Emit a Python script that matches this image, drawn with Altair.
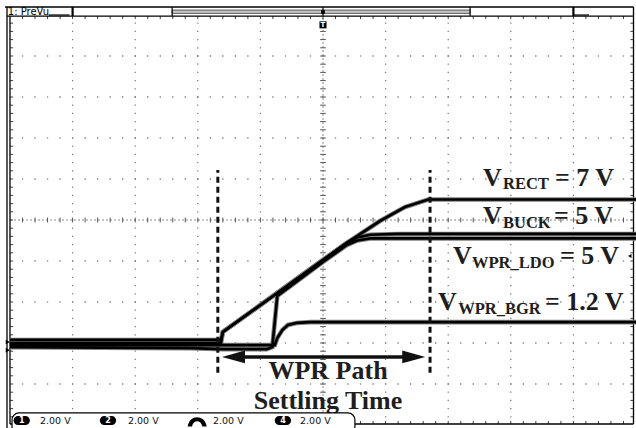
import altair as alt
import pandas as pd

# ---------------- chart values ----------------
# x: time in screen divisions (10 div across), y: volts (2 V/div, ground 3 div below centre)
rect_t = [0, 3.37, 3.40, 4.27, 5.00, 5.38, 5.91, 6.31, 6.68, 10]
rect_v = [0.15, 0.15, 0.54, 2.44, 4.05, 4.88, 5.95, 6.63, 7.0, 7.0]
buck_t = [0, 3.37, 3.40, 4.27, 5.00, 5.38, 5.55, 5.75, 6.2, 10]
buck_v = [0.0, 0.0, 0.54, 2.44, 4.05, 4.88, 5.15, 5.28, 5.32, 5.32]
ldo_t = [0, 2.9, 3.4, 4.1, 4.19, 4.27, 5.0, 5.38, 5.55, 5.75, 6.2, 10]
ldo_v = [-0.2, -0.25, -0.3, -0.3, -0.2, 2.3, 3.95, 4.78, 5.0, 5.1, 5.1, 5.1]
bgr_t = [0, 4.23, 4.27, 4.35, 4.44, 4.58, 4.8, 10]
bgr_v = [-0.1, -0.1, 0.24, 0.63, 0.88, 0.98, 1.02, 1.02]

settle_start = 3.32
settle_end = 6.71

label_big = ["V", "= 7 V", "V", "= 5 V", "V", "= 5 V", "V", "= 1.2 V"]
label_sub = ["RECT", "BUCK", "WPR_LDO", "WPR_BGR"]
caption = ["WPR Path", "Settling Time"]
channels = ["1", "2", "", "4"]
scale_txt = ["2.00 V", "2.00 V", "2.00 V", "2.00 V"]

# ---------------- scales ----------------
X = alt.Scale(domain=[0, 10], nice=False, zero=False)
Y = alt.Scale(domain=[-4, 16], nice=False, zero=False)


def ex(f="x"):
    return alt.X(f"{f}:Q", scale=X, axis=None)


def ey(f="y"):
    return alt.Y(f"{f}:Q", scale=Y, axis=None)


def segs(rows, **mk):
    df = pd.DataFrame(rows, columns=["x", "x2", "y", "y2"])
    return alt.Chart(df).mark_rule(**mk).encode(
        x=ex("x"), x2="x2:Q", y=ey("y"), y2="y2:Q")


minor_x = [i * 0.2 for i in range(51)]
minor_y = [-4 + i * 0.4 for i in range(51)]

# grid dots
dots = []
for gx in [1, 2, 3, 4, 6, 7, 8, 9]:
    for my in minor_y[1:-1]:
        dots.append((gx, my))
for gy in [-2, 0, 2, 4, 8, 10, 12, 14]:
    for mx in minor_x[1:-1]:
        dots.append((mx, gy))
grid = alt.Chart(pd.DataFrame(dots, columns=["x", "y"])).mark_square(
    size=1.6, color="#7a7a7a", opacity=1).encode(x=ex(), y=ey())

centre = segs([(5, 5, -3.95, 15.95), (0, 9.96, 6, 6)],
              color="#8a8a8a", strokeWidth=1, strokeDash=[2, 2])
centre_ticks = segs([(4.955, 5.045, my, my) for my in minor_y[1:-1]] +
                    [(mx, mx, 5.88, 6.12) for mx in minor_x[1:-1]],
                    color="#555555", strokeWidth=1)
border_ticks = segs([(0, 0.05, my, my) for my in minor_y[1:-1]] +
                    [(9.91, 9.96, my, my) for my in minor_y[1:-1]] +
                    [(mx, mx, 15.95, 15.8) for mx in minor_x[1:-1]] +
                    [(mx, mx, -3.95, -3.8) for mx in minor_x[1:-1]],
                    color="#444444", strokeWidth=1)
frame = segs([(0, 0, 15.95, -3.95), (-0.048, -0.048, 16.39, -4.3),
              (9.96, 9.96, 16.39, -3.95), (-0.048, 9.96, 15.95, 15.95),
              (0, 9.96, -3.95, -3.95), (-0.08, 9.96, 16.39, 16.39)],
             color="black", strokeWidth=1.3)

# header bar
hdr_sep = segs([(1.0, 1.0, 16.39, 15.95), (9.0, 9.0, 16.39, 15.95)],
               color="black", strokeWidth=2.2)
hdr_sep2 = segs([(2.59, 2.59, 16.39, 15.95), (7.35, 7.35, 16.39, 15.95),
                 (5.0, 5.0, 16.39, 15.95), (0.62, 0.95, 16.0, 16.0),
                 (9.0, 9.25, 16.0, 16.0)],
                color="black", strokeWidth=1.2)
hdr_bar = alt.Chart(pd.DataFrame({"x": [2.59], "x2": [7.35], "y": [16.24], "y2": [16.08]})).mark_rect(
    color="#c8c8c8", stroke="#333333", strokeWidth=0.8).encode(
    x=ex("x"), x2="x2:Q", y=ey("y"), y2="y2:Q")
hdr_txt = alt.Chart(pd.DataFrame({"x": [-0.035], "y": [16.0], "t": ["1: PreVu"]})).mark_text(
    align="left", baseline="alphabetic", font="DejaVu Sans", fontSize=10, color="black").encode(
    x=ex(), y=ey(), text="t:N")
trig = alt.Chart(pd.DataFrame({"x": [5.0, 5.0], "y": [15.52, 16.15], "s": [50, 14]})).mark_square(
    color="black", opacity=1).encode(x=ex(), y=ey(), size=alt.Size("s:Q", scale=None))
trig_t = alt.Chart(pd.DataFrame({"x": [5.0], "y": [15.52], "t": ["T"]})).mark_text(
    align="center", baseline="middle", font="DejaVu Sans", fontSize=7, fontWeight="bold",
    color="white").encode(x=ex(), y=ey(), text="t:N")

# side markers
marks_df = pd.DataFrame({"x": [-0.035, -0.035], "y": [0.05, -0.35]})
gnd = alt.Chart(marks_df).mark_point(shape="triangle-right", filled=True, size=22,
                                     color="black", opacity=1).encode(x=ex(), y=ey())
rmark = alt.Chart(pd.DataFrame({"x": [9.9], "y": [4.24]})).mark_point(
    shape="triangle-left", filled=True, size=16, color="black", opacity=1).encode(x=ex(), y=ey())

# traces
rows = []
for name, ts, vs in [("VRECT", rect_t, rect_v), ("VBUCK", buck_t, buck_v),
                     ("VWPR_LDO", ldo_t, ldo_v), ("VWPR_BGR", bgr_t, bgr_v)]:
    for i, (t, v) in enumerate(zip(ts, vs)):
        rows.append({"s": name, "i": i, "t": t, "v": v})
tr = pd.DataFrame(rows)
halo = alt.Chart(tr).mark_line(color="#808080", strokeWidth=4.6).encode(
    x=ex("t"), y=ey("v"), detail="s:N", order="i:Q")
trace = alt.Chart(tr).mark_line(color="black", strokeWidth=2.7).encode(
    x=ex("t"), y=ey("v"), detail="s:N", order="i:Q")

# settling-time markers
dash = segs([(settle_start, settle_start, -1.45, 8.44), (settle_end, settle_end, -1.45, 8.44)],
            color="#111111", strokeWidth=3, strokeDash=[6, 4])
arrow_line = segs([(settle_start + 0.2, settle_end - 0.2, -0.68, -0.68)],
                  color="#111111", strokeWidth=3.5)
heads = pd.DataFrame({"x": [settle_start + 0.25, settle_end - 0.26], "y": [-0.68, -0.68],
                      "d": ["l", "r"]})
head_l = alt.Chart(heads[heads.d == "l"]).mark_point(
    shape="M -1 0 L 1 -0.55 L 1 0.55 Z", size=529, filled=True, color="#111111",
    opacity=1).encode(x=ex(), y=ey())
head_r = alt.Chart(heads[heads.d == "r"]).mark_point(
    shape="M 1 0 L -1 -0.55 L -1 0.55 Z", size=529, filled=True, color="#111111",
    opacity=1).encode(x=ex(), y=ey())

# labels
big_df = pd.DataFrame({"t": label_big,
                       "x": [7.556, 8.706, 7.556, 8.69, 7.077, 8.786, 6.837, 8.546],
                       "y": [7.66, 7.66, 5.80, 5.80, 3.85, 3.85, 1.61, 1.61]})
big = alt.Chart(big_df).mark_text(align="left", baseline="alphabetic", font="Liberation Serif",
                                  fontWeight="bold", fontSize=26, color="#1e1e1e").encode(
    x=ex(), y=ey(), text="t:N")
sub_df = pd.DataFrame({"t": label_sub, "x": [7.875, 7.875, 7.38, 7.16],
                       "y": [7.51, 5.61, 3.66, 1.41]})
sub = alt.Chart(sub_df).mark_text(align="left", baseline="alphabetic", font="Liberation Serif",
                                  fontWeight="bold", fontSize=16.5, color="#1e1e1e").encode(
    x=ex(), y=ey(), text="t:N")
cap_df = pd.DataFrame({"t": caption, "x": [5.08, 5.08], "y": [-1.76, -3.22]})
cap = alt.Chart(cap_df).mark_text(align="center", baseline="alphabetic", font="Liberation Serif",
                                  fontWeight="bold", fontSize=26, color="#1e1e1e").encode(
    x=ex(), y=ey(), text="t:N")

# status bar
sb = alt.Chart(pd.DataFrame({"x": [0.032], "x2": [5.51], "y": [-3.41], "y2": [-4.4]})).mark_rect(
    fill="white", stroke="black", strokeWidth=1.2, cornerRadius=7).encode(
    x=ex("x"), x2="x2:Q", y=ey("y"), y2="y2:Q")
badge_x = [0.187, 1.565, 4.36]
pills = alt.Chart(pd.DataFrame({"x": [b - 0.13 for b in badge_x], "x2": [b + 0.13 for b in badge_x],
                                "y": [-3.56] * 3, "y2": [-4.0] * 3})).mark_rect(
    color="black", cornerRadius=4.5).encode(x=ex("x"), x2="x2:Q", y=ey("y"), y2="y2:Q")
pill_t = alt.Chart(pd.DataFrame({"x": badge_x, "y": [-3.79] * 3,
                                 "t": [c for c in channels if c]})).mark_text(
    align="center", baseline="middle", font="DejaVu Sans", fontSize=8, fontWeight="bold",
    color="white").encode(x=ex(), y=ey(), text="t:N")
arcm = alt.Chart(pd.DataFrame({"x": [2.99], "y": [-3.82]})).mark_point(
    shape="M -1 0.55 C -0.8 -0.75 0.8 -0.75 1 0.55 L 0.55 0.55 C 0.4 -0.2 -0.4 -0.2 -0.55 0.55 Z",
    size=361, filled=True, color="black", opacity=1).encode(x=ex(), y=ey())
sc_df = pd.DataFrame({"x": [0.479, 1.885, 3.243, 4.633], "y": [-3.95] * 4, "t": scale_txt})
sc = alt.Chart(sc_df).mark_text(align="left", baseline="alphabetic", font="DejaVu Sans",
                                fontSize=9.5, color="#111111").encode(x=ex(), y=ey(), text="t:N")

chart = alt.layer(
    grid, centre, centre_ticks, border_ticks, frame,
    hdr_bar, hdr_sep, hdr_sep2, hdr_txt, trig, trig_t, gnd, rmark,
    halo, trace, dash, arrow_line, head_l, head_r, big, sub, cap,
    sb, pills, pill_t, arcm, sc,
).properties(
    width=626, height=410,
    padding={"left": 10, "top": 15, "right": 0, "bottom": 3},
    autosize=alt.AutoSizeParams(type="none"),
    background="white",
).configure_view(stroke=None)

chart.save("out.html", embed_options={"renderer": "svg", "actions": False})
